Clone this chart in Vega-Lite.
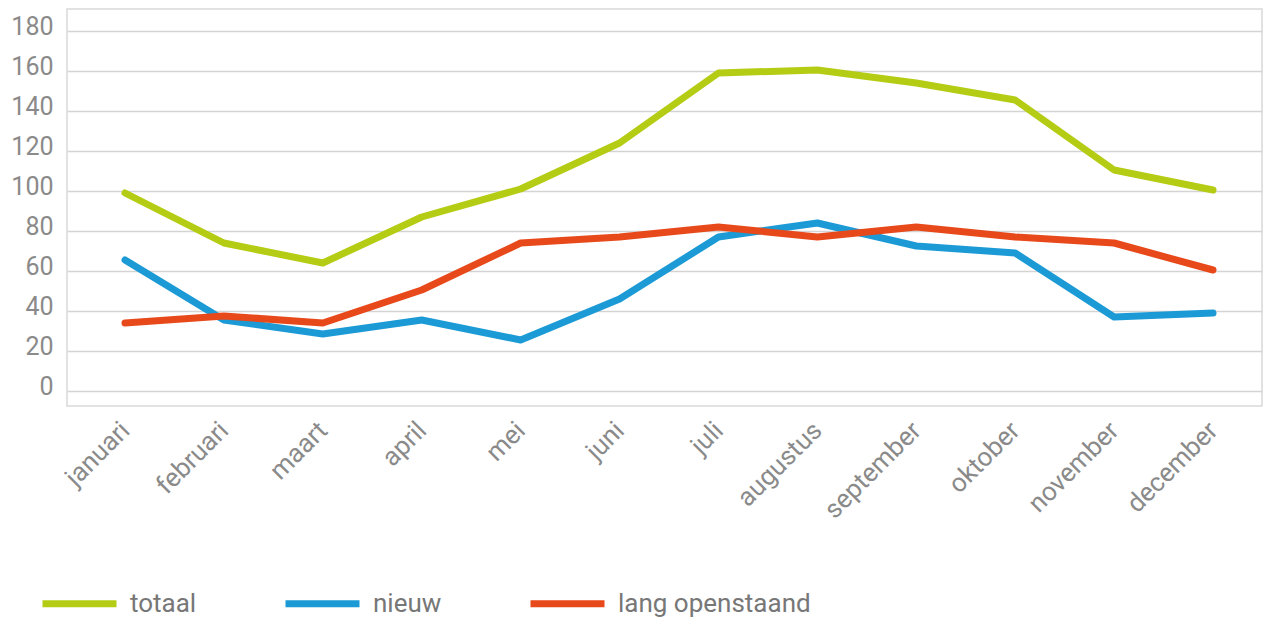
{
  "$schema": "https://vega.github.io/schema/vega-lite/v6.json",
  "autosize": {"type": "none"},
  "padding": {"left": 67, "top": 9, "right": 10, "bottom": 213},
  "width": 1195,
  "height": 397,
  "background": "white",
  "config": {
    "view": {"stroke": "#d9d9d9", "strokeWidth": 1.5},
    "font": "Roboto"
  },
  "data": {"values": [
    {"maand": "januari", "reeks": "totaal", "waarde": 99},
    {"maand": "februari", "reeks": "totaal", "waarde": 74},
    {"maand": "maart", "reeks": "totaal", "waarde": 64},
    {"maand": "april", "reeks": "totaal", "waarde": 87},
    {"maand": "mei", "reeks": "totaal", "waarde": 101},
    {"maand": "juni", "reeks": "totaal", "waarde": 124},
    {"maand": "juli", "reeks": "totaal", "waarde": 159},
    {"maand": "augustus", "reeks": "totaal", "waarde": 160.5},
    {"maand": "september", "reeks": "totaal", "waarde": 154},
    {"maand": "oktober", "reeks": "totaal", "waarde": 145.5},
    {"maand": "november", "reeks": "totaal", "waarde": 110.5},
    {"maand": "december", "reeks": "totaal", "waarde": 100.5},
    {"maand": "januari", "reeks": "nieuw", "waarde": 65.5},
    {"maand": "februari", "reeks": "nieuw", "waarde": 35.5},
    {"maand": "maart", "reeks": "nieuw", "waarde": 28.5},
    {"maand": "april", "reeks": "nieuw", "waarde": 35.5},
    {"maand": "mei", "reeks": "nieuw", "waarde": 25.5},
    {"maand": "juni", "reeks": "nieuw", "waarde": 46},
    {"maand": "juli", "reeks": "nieuw", "waarde": 77},
    {"maand": "augustus", "reeks": "nieuw", "waarde": 84},
    {"maand": "september", "reeks": "nieuw", "waarde": 72.5},
    {"maand": "oktober", "reeks": "nieuw", "waarde": 69},
    {"maand": "november", "reeks": "nieuw", "waarde": 37},
    {"maand": "december", "reeks": "nieuw", "waarde": 39},
    {"maand": "januari", "reeks": "lang openstaand", "waarde": 34},
    {"maand": "februari", "reeks": "lang openstaand", "waarde": 37.5},
    {"maand": "maart", "reeks": "lang openstaand", "waarde": 34},
    {"maand": "april", "reeks": "lang openstaand", "waarde": 50.5},
    {"maand": "mei", "reeks": "lang openstaand", "waarde": 74},
    {"maand": "juni", "reeks": "lang openstaand", "waarde": 77},
    {"maand": "juli", "reeks": "lang openstaand", "waarde": 82},
    {"maand": "augustus", "reeks": "lang openstaand", "waarde": 77},
    {"maand": "september", "reeks": "lang openstaand", "waarde": 82},
    {"maand": "oktober", "reeks": "lang openstaand", "waarde": 77},
    {"maand": "november", "reeks": "lang openstaand", "waarde": 74},
    {"maand": "december", "reeks": "lang openstaand", "waarde": 60.5}
  ]},
  "mark": {"type": "line", "strokeWidth": 7, "strokeCap": "round", "strokeJoin": "round"},
  "encoding": {
    "x": {
      "field": "maand", "type": "ordinal", "sort": null,
      "scale": {"type": "point", "padding": 0.541, "align": 0.542},
      "axis": {
        "title": null, "domain": false, "ticks": false, "grid": false,
        "labelAngle": -45, "labelAlign": "right", "labelBaseline": "middle",
        "labelPadding": 20, "labelFontSize": 26, "labelColor": "#8a8a8a"
      }
    },
    "y": {
      "field": "waarde", "type": "quantitative",
      "scale": {"domain": [-7.5, 191], "nice": false, "zero": false},
      "axis": {
        "title": null, "values": [0, 20, 40, 60, 80, 100, 120, 140, 160, 180],
        "domain": false, "ticks": false, "grid": true,
        "gridColor": "#d4d4d4", "gridWidth": 1.5,
        "labelPadding": 14, "labelOffset": -5, "labelFontSize": 25, "labelColor": "#8a8a8a"
      }
    },
    "color": {
      "field": "reeks", "type": "nominal",
      "sort": ["totaal", "nieuw", "lang openstaand"],
      "scale": {"domain": ["totaal", "nieuw", "lang openstaand"], "range": ["#b5cc14", "#1c9ad6", "#e8491a"]},
      "legend": {
        "title": null, "orient": "none", "direction": "horizontal",
        "legendX": -28, "legendY": 554,
        "symbolType": "stroke", "symbolSize": 5476, "symbolStrokeWidth": 7,
        "labelFontSize": 26, "labelColor": "#777777", "labelOffset": 10, "labelLimit": 400,
        "columnPadding": 74, "symbolOffset": 0
      }
    }
  }
}
